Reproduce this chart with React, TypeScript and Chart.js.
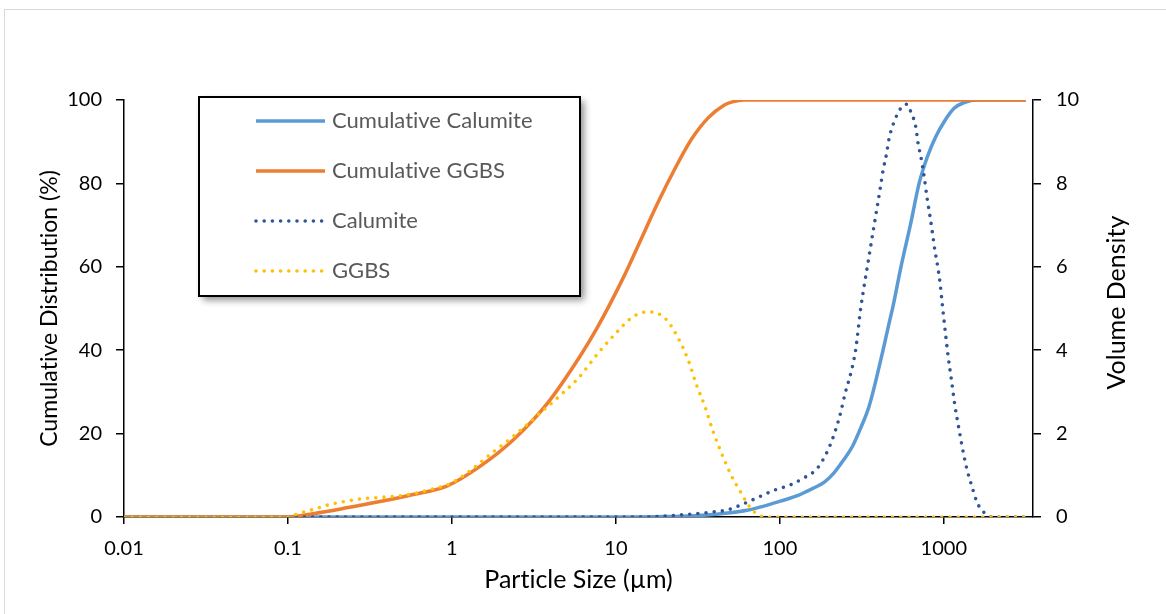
import React, { useEffect, useRef } from "react";
import { Chart, registerables } from "chart.js";

Chart.register(...registerables);

const FONT = "Lato, 'Noto Sans', sans-serif";

// ---- axes ----
const sizeTicks = [0.01, 0.1, 1, 10, 100, 1000];
const sizeMin = 0.01;
const sizeMax = 3500;
const cumulativeTicks = [0, 20, 40, 60, 80, 100];
const densityTicks = [0, 2, 4, 6, 8, 10];

const xTitle = "Particle Size (µm)";
const yLeftTitle = "Cumulative Distribution (%)";
const yRightTitle = "Volume Density";

const seriesLabels = ["Cumulative Calumite", "Cumulative GGBS", "Calumite", "GGBS"];

// ---- Cumulative Calumite (%), left axis ----
const calumiteCumSizes = [0.01, 10, 20, 30, 39, 50, 63, 80, 101, 128, 147, 162, 186, 214, 246, 277, 311, 350, 384, 423, 464, 490, 546, 629, 707, 794, 893, 1005, 1156, 1331, 1606, 3160];
const calumiteCumValues = [0, 0, 0.1, 0.3, 0.6, 1.0, 1.6, 2.6, 3.8, 5.1, 6.2, 7.0, 8.3, 10.6, 13.8, 16.9, 21.3, 26.5, 32.5, 39.5, 46.5, 50.5, 59.7, 70.5, 80.0, 86.4, 91.2, 94.8, 98.0, 99.4, 100, 100];

// ---- Cumulative GGBS (%), left axis ----
const ggbsCumSizes = [0.01, 0.1, 0.142, 0.228, 0.364, 0.58, 0.93, 1.49, 2.38, 3.81, 6.1, 7.7, 11.2, 14.2, 18, 22.7, 28.7, 36.3, 45.9, 52, 60, 3160];
const ggbsCumValues = [0, 0, 0.8, 2.2, 3.7, 5.4, 7.4, 12.2, 18.6, 27.2, 38.8, 45.4, 57.7, 66.5, 75.3, 83.2, 90.4, 95.6, 98.8, 99.6, 100, 100];

// ---- Calumite volume density, right axis ----
const calumiteDenSizes = [0.01, 15, 24.8, 38.7, 47.9, 60.4, 74.6, 92.1, 116, 142, 165, 182, 202, 219, 233, 252, 271, 290, 311, 328, 347, 367, 388, 411, 426, 447, 464, 497, 546, 594, 629, 675, 697, 731, 759, 794, 825, 853, 881, 916, 949, 982, 1014, 1063, 1114, 1167, 1240, 1319, 1395, 1483, 1584, 1683, 1829, 1982, 3160];
const calumiteDenValues = [0, 0, 0.05, 0.12, 0.17, 0.32, 0.48, 0.64, 0.77, 0.95, 1.12, 1.35, 1.71, 2.09, 2.45, 3.01, 3.45, 4.01, 4.99, 5.58, 6.16, 6.75, 7.32, 7.92, 8.31, 8.70, 9.08, 9.47, 9.80, 9.90, 9.72, 9.35, 8.96, 8.56, 8.16, 7.60, 7.20, 6.81, 6.41, 6.03, 5.61, 5.05, 4.55, 3.85, 3.28, 2.69, 2.09, 1.52, 1.09, 0.74, 0.38, 0.19, 0.06, 0, 0];

// ---- GGBS volume density, right axis ----
const ggbsDenSizes = [0.01, 0.1, 0.115, 0.142, 0.18, 0.228, 0.288, 0.364, 0.46, 0.58, 0.74, 1.0, 1.32, 1.71, 2.38, 3.2, 4.5, 5.9, 7.8, 9.9, 12.7, 15.7, 19.9, 24.0, 27.7, 31.0, 35.0, 39.0, 44.2, 50.8, 57.2, 64.5, 69.1, 76, 82, 3160];
const ggbsDenValues = [0, 0, 0.08, 0.18, 0.30, 0.38, 0.44, 0.47, 0.50, 0.56, 0.66, 0.82, 1.14, 1.5, 1.94, 2.38, 2.89, 3.33, 3.93, 4.39, 4.80, 4.92, 4.77, 4.29, 3.75, 3.17, 2.64, 2.07, 1.52, 0.98, 0.62, 0.28, 0.14, 0.03, 0, 0];

const colors = ["#5B9BD5", "#ED7D31", "#2F5597", "#FFC000"];

const toPoints = (xs: number[], ys: number[]) => xs.map((x, i) => ({ x, y: ys[i] }));

const decorPlugin = {
  id: "excelDecor",
  beforeDraw(chart: any) {
    const { ctx, width, height } = chart;
    try {
      (ctx as any).textRendering = "optimizeSpeed";
    } catch (e) {}
    ctx.save();
    ctx.fillStyle = "#ffffff";
    ctx.fillRect(0, 0, width, height);
    ctx.strokeStyle = "#d9d9d9";
    ctx.lineWidth = 1;
    ctx.strokeRect(4.5, 9.5, width + 10, height + 10);
    ctx.restore();
  },
  afterDraw(chart: any) {
    const { ctx, chartArea } = chart;
    // right axis title (reads bottom to top)
    const y1 = chart.scales.y1;
    ctx.save();
    ctx.translate(y1.right - 49, (chartArea.top + chartArea.bottom) / 2 - 6);
    ctx.rotate(-Math.PI / 2);
    ctx.font = `25px ${FONT}`;
    ctx.fillStyle = "#000";
    ctx.textAlign = "center";
    ctx.textBaseline = "middle";
    ctx.fillText(yRightTitle, 0, 0);
    ctx.restore();

    // legend box
    const bx = chartArea.left + 75;
    const by = chartArea.top - 3;
    const bw = 381;
    const bh = 199;
    ctx.save();
    ctx.shadowColor = "rgba(0,0,0,0.45)";
    ctx.shadowBlur = 7;
    ctx.shadowOffsetX = 4;
    ctx.shadowOffsetY = 4;
    ctx.fillStyle = "#fff";
    ctx.fillRect(bx, by, bw, bh);
    ctx.restore();
    ctx.save();
    ctx.strokeStyle = "#000";
    ctx.lineWidth = 2;
    ctx.strokeRect(bx, by, bw, bh);
    chart.data.datasets.forEach((ds: any, i: number) => {
      const ry = by + 24 + i * 50;
      ctx.beginPath();
      ctx.strokeStyle = ds.borderColor;
      ctx.lineWidth = ds.borderWidth;
      ctx.lineCap = ds.borderCapStyle || "butt";
      ctx.setLineDash(ds.borderDash || []);
      ctx.moveTo(bx + 57, ry);
      ctx.lineTo(bx + 126, ry);
      ctx.stroke();
      ctx.setLineDash([]);
      ctx.font = `22px ${FONT}`;
      ctx.fillStyle = "#595959";
      ctx.textAlign = "left";
      ctx.textBaseline = "middle";
      ctx.fillText(ds.label, bx + 133, ry);
    });
    ctx.restore();
  },
};

export default function App() {
  const ref = useRef<HTMLCanvasElement | null>(null);

  useEffect(() => {
    if (!ref.current) return;
    const solid = (i: number, xs: number[], ys: number[], axis: string, order: number) => ({
      label: seriesLabels[i],
      data: toPoints(xs, ys),
      borderColor: colors[i],
      backgroundColor: colors[i],
      borderWidth: 3.5,
      borderCapStyle: "butt",
      pointRadius: 0,
      cubicInterpolationMode: "monotone",
      yAxisID: axis,
      order,
    });
    const dotted = (i: number, xs: number[], ys: number[], axis: string, order: number) => ({
      ...solid(i, xs, ys, axis, order),
      borderWidth: 3.6,
      borderDash: [0, 8.2],
      borderCapStyle: "round",
    });

    const tickFont = { family: FONT, size: 20 };
    const chart = new Chart(ref.current, {
      type: "line",
      data: {
        datasets: [
          solid(0, calumiteCumSizes, calumiteCumValues, "y", 3),
          solid(1, ggbsCumSizes, ggbsCumValues, "y", 2),
          dotted(2, calumiteDenSizes, calumiteDenValues, "y1", 1),
          dotted(3, ggbsDenSizes, ggbsDenValues, "y1", 0),
        ] as any,
      },
      options: {
        animation: false,
        responsive: false,
        maintainAspectRatio: false,
        layout: { padding: { top: 100, left: 0, right: 0, bottom: 0 } },
        plugins: { legend: { display: false }, tooltip: { enabled: false } },
        scales: {
          x: {
            type: "logarithmic",
            position: "bottom",
            min: sizeMin,
            max: sizeMax,
            afterBuildTicks: (s: any) => {
              s.ticks = sizeTicks.map((v) => ({ value: v, major: true }));
            },
            afterFit: (s: any) => {
              s.height = 97;
            },
            ticks: {
              autoSkip: false,
              maxRotation: 0,
              color: "#000",
              font: tickFont,
              padding: 13,
              callback: (v: any) => String(v),
            },
            grid: { drawOnChartArea: false, drawTicks: true, tickLength: 7, color: "#000", lineWidth: 1.5 },
            border: { display: true, color: "#000", width: 1.5 },
            title: {
              display: true,
              text: xTitle,
              color: "#000",
              font: { family: FONT, size: 25 },
              padding: { top: 0, bottom: 19 },
            },
          },
          y: {
            type: "linear",
            position: "left",
            min: 0,
            max: 100,
            afterBuildTicks: (s: any) => {
              s.ticks = cumulativeTicks.map((v) => ({ value: v }));
            },
            afterFit: (s: any) => {
              s.width = 124;
            },
            ticks: { color: "#000", font: tickFont, padding: 14 },
            grid: { drawOnChartArea: false, drawTicks: true, tickLength: 8, color: "#000", lineWidth: 1.5 },
            border: { display: true, color: "#000", width: 1.5 },
            title: {
              display: true,
              text: yLeftTitle,
              color: "#000",
              font: { family: FONT, size: 23 },
              padding: { top: 36, bottom: 0 },
            },
          },
          y1: {
            type: "linear",
            position: "right",
            min: 0,
            max: 10,
            afterBuildTicks: (s: any) => {
              s.ticks = densityTicks.map((v) => ({ value: v }));
            },
            afterFit: (s: any) => {
              s.width = 133;
            },
            ticks: { color: "#000", font: tickFont, padding: 15 },
            grid: { drawOnChartArea: false, drawTicks: true, tickLength: 8, color: "#000", lineWidth: 1.5 },
            border: { display: true, color: "#000", width: 1.5 },
            title: { display: false },
          },
        },
      } as any,
      plugins: [decorPlugin],
    });
    return () => chart.destroy();
  }, []);

  return (
    <div style={{ position: "absolute", left: 0, top: 0, width: 1166, height: 614, background: "#fff" }}>
      <canvas ref={ref} width={1166} height={614} style={{ display: "block", width: 1166, height: 614 }} />
    </div>
  );
}
